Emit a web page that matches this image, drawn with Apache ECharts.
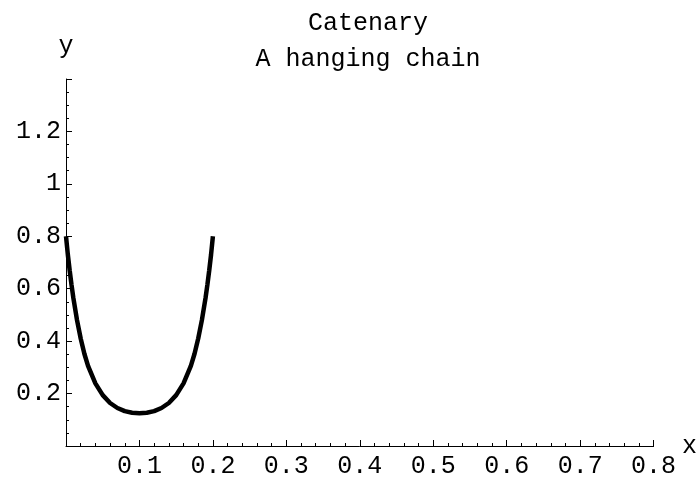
<!DOCTYPE html>
<html>
<head>
<meta charset="utf-8">
<script src="https://cdn.jsdelivr.net/npm/echarts@6/dist/echarts.min.js"></script>
<style>
  html, body { margin: 0; padding: 0; background: #fff; }
  #main { width: 700px; height: 479px; }
</style>
</head>
<body>
<div id="main"></div>
<script>
// points
var xs = [0, 0.0025, 0.005, 0.0075, 0.01, 0.015, 0.02, 0.025, 0.03, 0.04, 0.05, 0.06, 0.07, 0.08, 0.09, 0.1,
          0.11, 0.12, 0.13, 0.14, 0.15, 0.16, 0.17, 0.175, 0.18, 0.185, 0.19, 0.1925, 0.195, 0.1975, 0.2];
var ys = [0.80, 0.73, 0.67, 0.615, 0.565, 0.48, 0.41, 0.352, 0.306, 0.239, 0.194, 0.164, 0.145, 0.133, 0.127, 0.125,
          0.127, 0.133, 0.145, 0.164, 0.194, 0.239, 0.306, 0.352, 0.41, 0.48, 0.565, 0.615, 0.67, 0.73, 0.80];
var xTicks = [0.1, 0.2, 0.3, 0.4, 0.5, 0.6, 0.7, 0.8];
var yTicks = [0.2, 0.4, 0.6, 0.8, 1, 1.2];

var font = '"Liberation Mono", "DejaVu Sans Mono", monospace';

var points = xs.map(function (x, i) { return [x, ys[i]]; });

var option = {
    animation: false,
    title: [
        {
            text: 'Catenary',
            left: 363,
            top: 6,
            textAlign: 'center',
            textStyle: { fontFamily: font, fontSize: 25, fontWeight: 'normal', color: '#000' }
        },
        {
            text: 'A hanging chain',
            left: 363,
            top: 42,
            textAlign: 'center',
            textStyle: { fontFamily: font, fontSize: 25, fontWeight: 'normal', color: '#000' }
        }
    ],
    grid: { left: 66, right: 39, top: 79, bottom: 33 },
    xAxis: {
        type: 'value',
        min: 0,
        max: 0.8,
        interval: 0.1,
        name: 'x',
        nameLocation: 'end',
        nameGap: 21,
        nameTextStyle: { fontFamily: font, fontSize: 25, color: '#000', verticalAlign: 'middle' },
        splitLine: { show: false },
        axisLine: { onZero: false, lineStyle: { color: '#000', width: 1 } },
        axisTick: { inside: true, length: 6, lineStyle: { color: '#000' } },
        minorTick: { show: true, splitNumber: 5, length: 3, lineStyle: { color: '#000' } },
        axisLabel: {
            margin: 8,
            fontFamily: font, fontSize: 25, color: '#000',
            formatter: function (v) { return xTicks.indexOf(+v.toFixed(2)) >= 0 ? String(+v.toFixed(2)) : ''; }
        }
    },
    yAxis: {
        type: 'value',
        min: 0,
        max: 1.4,
        interval: 0.2,
        name: 'y',
        nameLocation: 'end',
        nameGap: 20,
        nameTextStyle: { fontFamily: font, fontSize: 25, color: '#000' },
        splitLine: { show: false },
        axisLine: { onZero: false, lineStyle: { color: '#000', width: 1 } },
        axisTick: { inside: true, length: 6, lineStyle: { color: '#000' } },
        minorTick: { show: true, splitNumber: 4, length: 3, lineStyle: { color: '#000' } },
        axisLabel: {
            margin: 5,
            fontFamily: font, fontSize: 25, color: '#000',
            formatter: function (v) { return yTicks.indexOf(+v.toFixed(2)) >= 0 ? String(+v.toFixed(2)) : ''; }
        }
    },
    series: [
        {
            type: 'line',
            data: points,
            showSymbol: false,
            smooth: false,
            lineStyle: { color: '#000', width: 4.5 }
        }
    ]
};

var myChart = echarts.init(document.getElementById('main'));
myChart.setOption(option);
</script>
</body>
</html>
